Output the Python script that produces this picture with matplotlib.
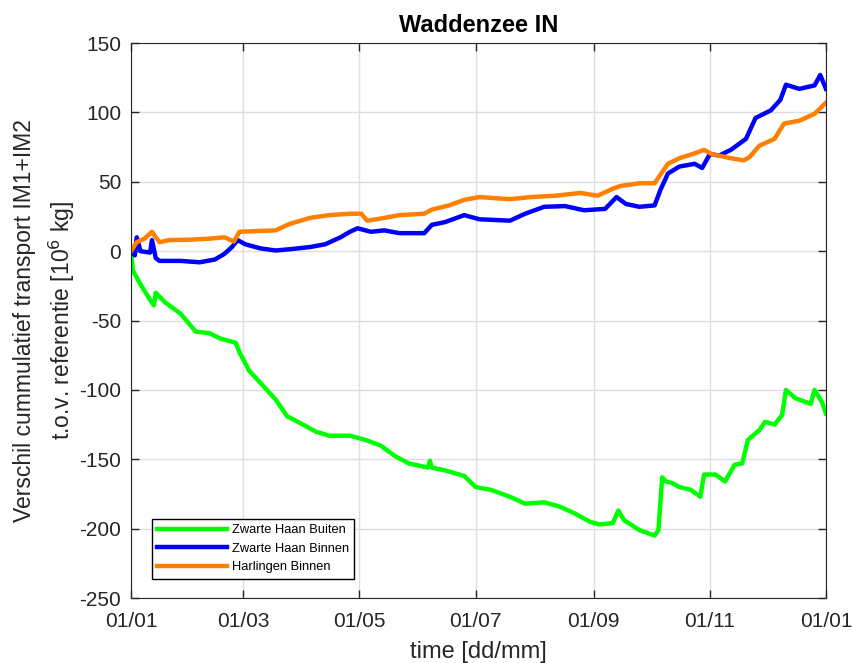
import numpy as np
import matplotlib
matplotlib.use("Agg")
import matplotlib.pyplot as plt
import matplotlib.dates as mdates
import datetime as dt

plt.rcParams['font.family'] = ['Liberation Sans', 'DejaVu Sans']
plt.rcParams['axes.unicode_minus'] = False

start = dt.datetime(2017, 1, 1)

# day of year, value [10^6 kg]
days_buiten = [0, 1, 5, 10, 12, 13, 18, 26, 34, 41, 47, 55, 57, 62, 68, 76, 82, 89, 97, 104,
               115, 123, 131, 139, 146, 156, 157, 158, 165, 175, 181, 189, 199, 207, 217, 225,
               233, 241, 246, 253, 256, 259, 267, 275, 277, 279, 281, 284, 288, 294, 299, 301,
               307, 312, 317, 321, 324, 330, 333, 338, 342, 344, 349, 357, 359, 363, 365]
zh_buiten = [0, -14, -24, -35, -39, -30, -37, -45, -58, -59, -63, -66, -73, -86, -95, -107, -119,
             -124, -130, -133, -133, -136, -140, -148, -153, -156, -151, -156, -158, -162, -170,
             -172, -177, -182, -181, -184, -189, -195, -197, -196, -187, -194, -201, -205, -201,
             -163, -166, -167, -170, -172, -177, -161, -161, -166, -154, -153, -136, -129, -123,
             -125, -118, -100, -106, -110, -100, -109, -117]

days_binnen = [0, 2, 3, 5, 10, 11, 13, 15, 26, 36, 44, 49, 53, 56, 60, 68, 76, 84, 94, 102,
               110, 115, 119, 126, 133, 141, 154, 158, 165, 175, 183, 199, 207, 217, 228, 238,
               249, 255, 260, 267, 275, 278, 282, 288, 296, 300, 304, 309, 315, 323, 328, 336,
               341, 344, 351, 359, 362, 365]
zh_binnen = [0, -3, 10, 0, -1, 8, -5, -7, -7, -8, -6, -2, 3, 8, 5, 2, 0.5, 1.5, 3, 5, 10, 14,
             16.5, 14, 15, 13, 13, 19, 21, 26, 23, 22, 27, 32, 32.5, 29.5, 30.5, 39, 34, 32, 33,
             44, 56, 61, 63, 60, 70, 69, 73, 81, 96, 101.5, 109, 120, 117, 119.5, 127, 117]

days_harl = [0, 3, 7, 11, 13, 15, 20, 31, 41, 49, 54, 57, 68, 76, 83, 94, 104, 115, 121, 124,
             131, 141, 154, 158, 167, 175, 183, 199, 210, 223, 236, 245, 253, 257, 267, 275,
             278, 282, 288, 296, 301, 305, 315, 322, 325, 330, 338, 343, 351, 359, 365]
harl_binnen = [0, 6.5, 9, 14, 10, 6.5, 8, 8.3, 9, 10, 7, 14, 14.6, 15, 19.5, 24, 26, 27, 27, 22,
               23.5, 26, 27, 30, 33, 37, 39, 37.5, 39, 40, 42, 40, 45, 47, 49, 49, 55, 63, 67,
               70.5, 73, 70, 67, 65.5, 68, 76, 81, 92, 94, 99, 107]

labels = ['Zwarte Haan Buiten', 'Zwarte Haan Binnen', 'Harlingen Binnen']
dark = (0.15, 0.15, 0.15)


def to_dates(days):
    return [start + dt.timedelta(days=d) for d in days]


fig = plt.figure(figsize=(8.53, 6.63), dpi=100)
ax = fig.add_axes([0.1536, 0.098, 0.8147, 0.837])

ax.plot(to_dates(days_buiten), zh_buiten, color=(0, 1, 0), lw=3.2, label=labels[0])
ax.plot(to_dates(days_binnen), zh_binnen, color=(0, 0, 1), lw=3.2, label=labels[1])
ax.plot(to_dates(days_harl), harl_binnen, color=(1, 0.5, 0), lw=3.2, label=labels[2])

ax.set_xlim(start, dt.datetime(2018, 1, 1))
ax.set_ylim(-250, 150)
ax.set_yticks(np.arange(-250, 151, 50))
ticks = [dt.datetime(2017, m, 1) for m in (1, 3, 5, 7, 9, 11)] + [dt.datetime(2018, 1, 1)]
ax.set_xticks(ticks)
ax.xaxis.set_major_formatter(mdates.DateFormatter('%d/%m'))

ax.grid(True, color=(0.87, 0.87, 0.87), lw=1)
ax.set_axisbelow(True)
ax.tick_params(direction='in', top=True, right=True, labelsize=15, length=6,
               colors=dark, width=1)
ax.tick_params(axis='x', pad=10)
ax.tick_params(axis='y', pad=7)
for s in ax.spines.values():
    s.set_color(dark)

ax.set_title('Waddenzee IN', fontsize=17, fontweight='bold', pad=8)
ax.set_xlabel('time [dd/mm]', fontsize=17, color=dark, labelpad=7)
ax.set_ylabel('Verschil cummulatief transport IM1+IM2\nt.o.v. referentie [10$^6$ kg]',
              fontsize=16.5, color=dark, labelpad=2, linespacing=1.45)

leg = ax.legend(loc='lower left', bbox_to_anchor=(0.03, 0.035), fontsize=9.3,
                handlelength=5.4, fancybox=False, framealpha=1, borderaxespad=0,
                labelspacing=0.5, handletextpad=0.4, borderpad=0.4)
leg.get_frame().set_edgecolor('black')
leg.get_frame().set_linewidth(1)

fig.savefig('out.png', dpi=100)
